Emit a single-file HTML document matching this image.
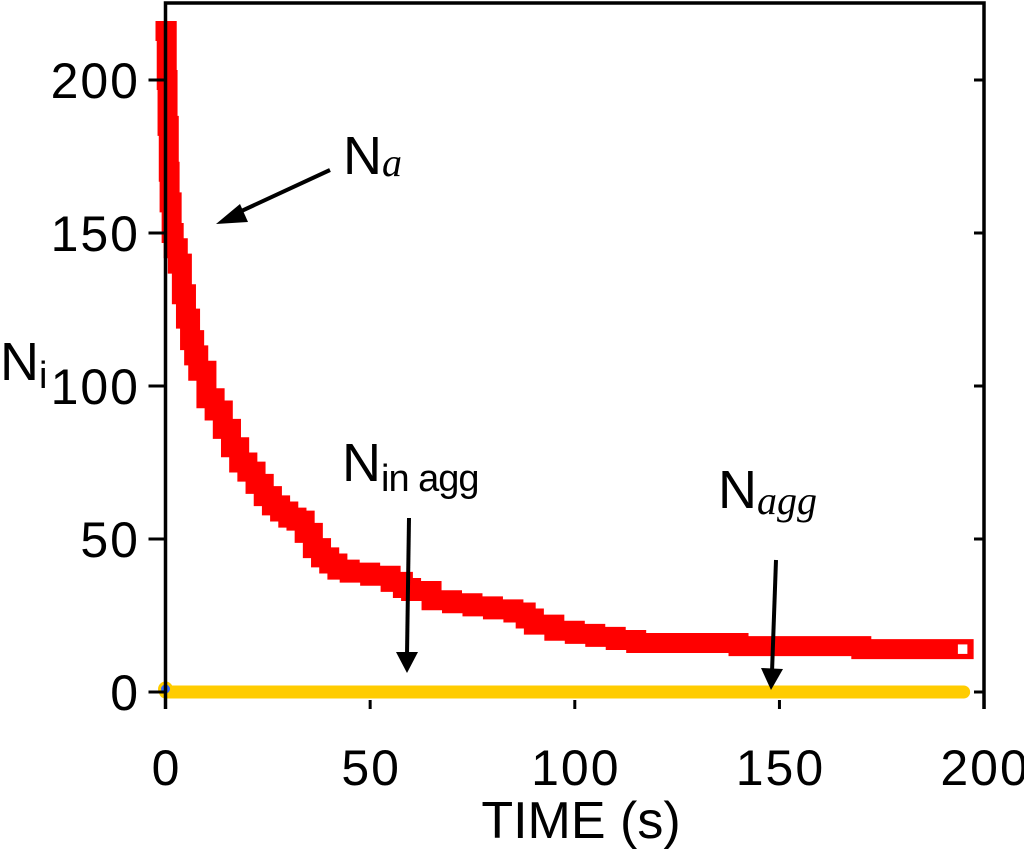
<!DOCTYPE html>
<html><head><meta charset="utf-8"><style>
body{margin:0;background:#fff;}
svg{display:block;font-family:"Liberation Sans",Arial,sans-serif;}
</style></head><body>
<svg id="chart" width="1024" height="849" viewBox="0 0 1024 849" xmlns="http://www.w3.org/2000/svg">
<g id="plot"></g>
<g id="axes"></g>
<g>
  <text x="343" y="174" font-size="54">N<tspan font-family="Liberation Serif" font-style="italic" font-size="40" dy="2">a</tspan></text>
  <line x1="330" y1="170" x2="235" y2="214" stroke="#000" stroke-width="4"/>
  <polygon points="216,224 240,204 248,222" fill="#000"/>
  <text x="342" y="481" font-size="54">N<tspan font-size="38" dy="10" letter-spacing="-1">in agg</tspan></text>
  <line x1="409" y1="518" x2="407" y2="655" stroke="#000" stroke-width="4"/>
  <polygon points="396,652 418,652 407,673" fill="#000"/>
  <text x="718" y="508" font-size="54">N<tspan font-family="Liberation Serif" font-style="italic" font-size="40" dy="6">agg</tspan></text>
  <line x1="776" y1="560" x2="772" y2="672" stroke="#000" stroke-width="4"/>
  <polygon points="761,668 783,669 771,690" fill="#000"/>
</g>
<text x="0" y="380" font-size="54">N<tspan font-size="38" dy="8">i</tspan></text>
<text x="581" y="838" font-size="52" text-anchor="middle">TIME (s)</text>
</svg>
<script>
const times = [0,0.3,0.5,0.8,1,1.5,2,3,4,5,6,7,8,10,12,14,16,18,20,22,24,26,28,30,32,34,36,38,40,42,45,50,55,58,60,65,70,75,80,85,88,90,95,100,105,110,115,120,130,140,150,160,170,180,190,195];
const naValues = [216,200,185,170,160,150,145,140,130,122,115,110,105,96,92,86,80,75,72,68,64,61,59,57,56,52,47,44,42,40,39,38,36,34,33,30,29,28,27,26,24,22,20,19,18,17,16,16,16,15,15,15,14,14,14,14];
const aggTimes = [0,195];
const aggValues = [0,0];
const xTicks = [0,50,100,150,200];
const yTicks = [0,50,100,150,200];

const X0=165.5, X1=984, Y0=692, YTOP=3, YBOT=709;
function sx(t){return X0 + t*4.093;}
function sy(v){return Y0 - v*3.06;}
const NS="http://www.w3.org/2000/svg";
const plot=document.getElementById('plot');
const axes=document.getElementById('axes');
function mk(tag,attrs,parent){const e=document.createElementNS(NS,tag);for(const k in attrs)e.setAttribute(k,attrs[k]);parent.appendChild(e);return e;}

let d='M'+sx(times[0])+','+sy(naValues[0]);
for(let i=1;i<times.length;i++){d+=' L'+sx(times[i])+','+sy(naValues[i-1])+' L'+sx(times[i])+','+sy(naValues[i]);}
const naLine=mk('path',{d:d,fill:'none',stroke:'#ff0000','stroke-width':20,'stroke-linejoin':'miter','stroke-linecap':'square'},plot);


times.forEach((t,i)=>{
  const r=mk('rect',{x:sx(t)-7,y:sy(naValues[i])-7,width:14,height:14,fill:'#ff0000'},plot);
  
  
});
const last=times.length-1;
const lr=mk('rect',{x:sx(times[last])-7,y:sy(naValues[last])-6,width:12,height:12,fill:'#fff',stroke:'#ff0000','stroke-width':2.5},plot);



const ag=mk('line',{x1:sx(aggTimes[0]),y1:sy(aggValues[0]),x2:sx(aggTimes[1]),y2:sy(aggValues[1]),stroke:'#ffcc00','stroke-width':13,'stroke-linecap':'round'},plot);


const ac=mk('circle',{cx:sx(aggTimes[0]),cy:sy(aggValues[0])-3,r:6,fill:'#3366ff',stroke:'#ffcc00','stroke-width':3},plot);



const fr=mk('path',{d:`M${X0},${YBOT} L${X0},${YTOP} L${X1},${YTOP} L${X1},${YBOT}`,fill:'none',stroke:'#000','stroke-width':3.5},axes);


yTicks.forEach(v=>{
  const tk=mk('line',{x1:X0-17,y1:sy(v),x2:X0,y2:sy(v),stroke:'#000','stroke-width':3},axes);
  
  
  const tr=mk('line',{x1:X1-10,y1:sy(v),x2:X1,y2:sy(v),stroke:'#000','stroke-width':3},axes);
  
  
  const lb=mk('text',{x:140,y:sy(v)+18,'font-size':50,'letter-spacing':2,'text-anchor':'end'},axes);
  lb.textContent=v;
  
  
});
xTicks.forEach(v=>{
  const tk=mk('line',{x1:sx(v),y1:YBOT-9,x2:sx(v),y2:YBOT,stroke:'#000','stroke-width':3},axes);
  
  
  const lb=mk('text',{x:sx(v)+1,y:785,'font-size':50,'letter-spacing':2,'text-anchor':'middle'},axes);
  lb.textContent=v;
  
  
});
</script>
</body></html>
